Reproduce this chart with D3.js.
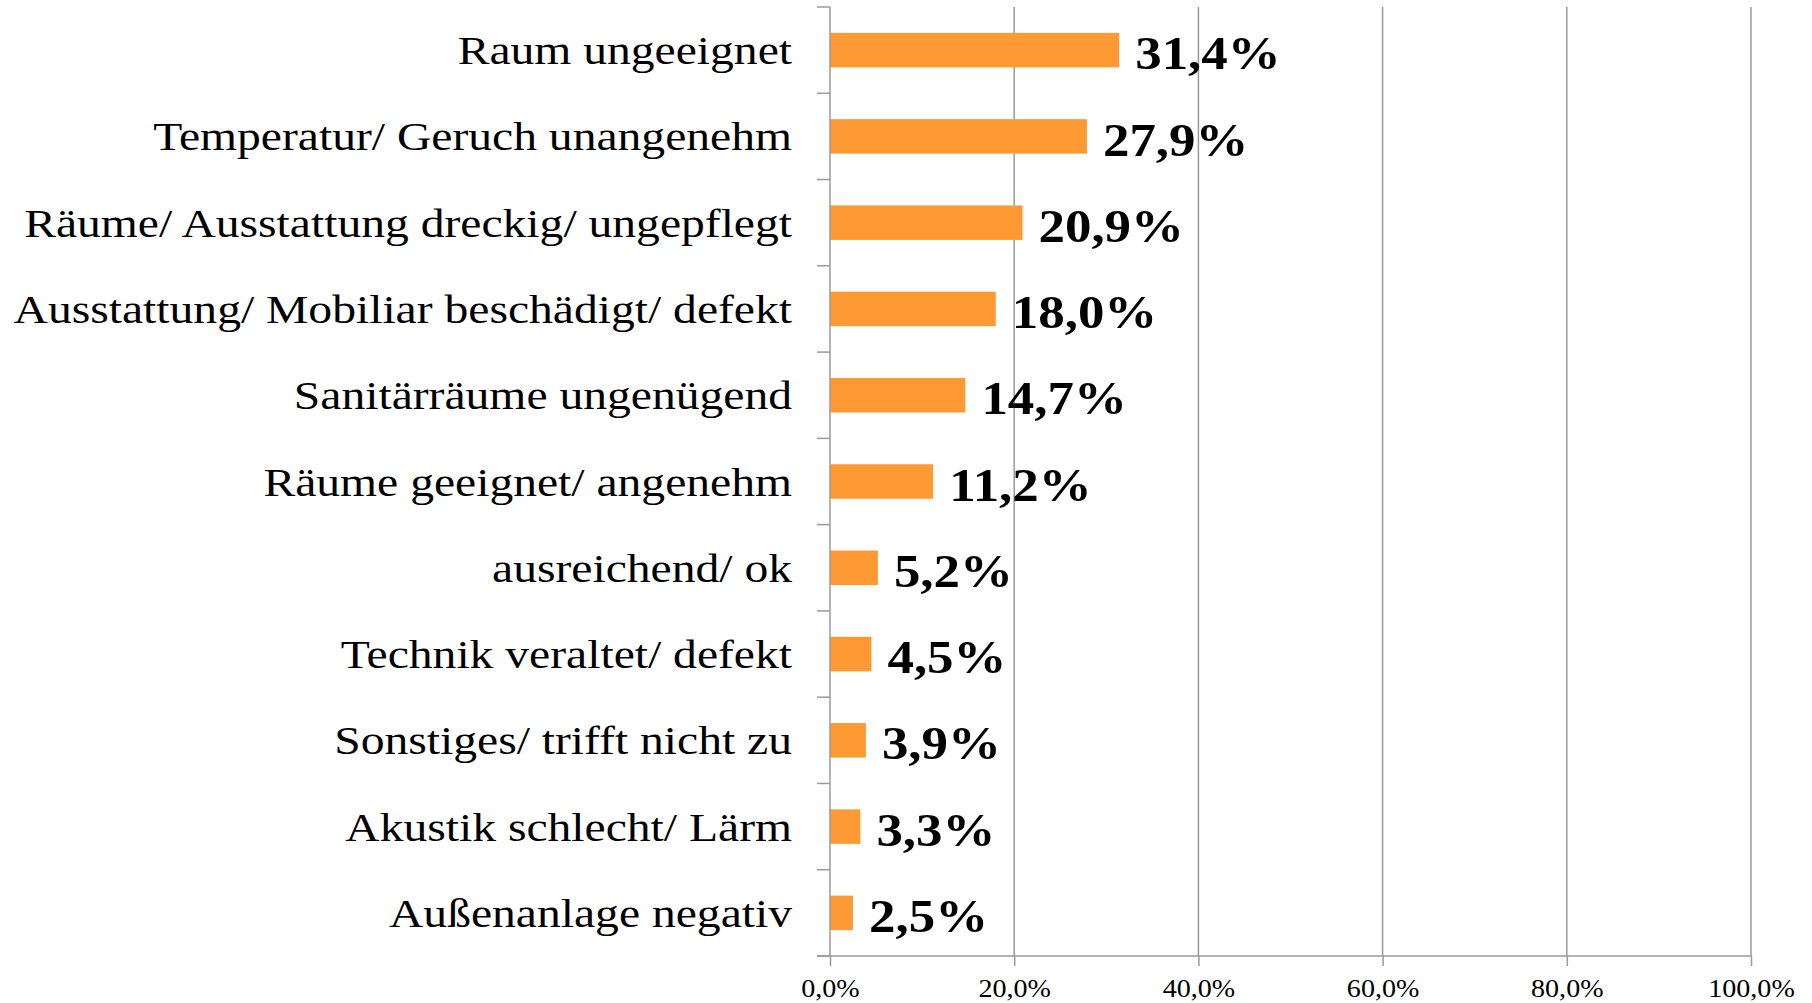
<!DOCTYPE html>
<html>
<head>
<meta charset="utf-8">
<script src="https://cdn.jsdelivr.net/npm/d3@7"></script>
<style>
  html, body { margin: 0; padding: 0; background: #fff; }
  svg { display: block; }
</style>
</head>
<body>
<svg id="chart" width="1812" height="1003"></svg>
<script>
// Gründe / Bewertung der Räumlichkeiten (Anteil der Nennungen)
const categories = [
  "Raum ungeeignet",
  "Temperatur/ Geruch unangenehm",
  "Räume/ Ausstattung dreckig/ ungepflegt",
  "Ausstattung/ Mobiliar beschädigt/ defekt",
  "Sanitärräume ungenügend",
  "Räume geeignet/ angenehm",
  "ausreichend/ ok",
  "Technik veraltet/ defekt",
  "Sonstiges/ trifft nicht zu",
  "Akustik schlecht/ Lärm",
  "Außenanlage negativ"
];
const values = [31.4, 27.9, 20.9, 18.0, 14.7, 11.2, 5.2, 4.5, 3.9, 3.3, 2.5];
const tickValues = [0, 20, 40, 60, 80, 100];

const fmt = v => v.toFixed(1).replace(".", ",") + "%";

const svg = d3.select("#chart");
const margin = { left: 830, right: 1812 - 1751, top: 7, bottom: 1003 - 956 };
const W = 1812, H = 1003;

const x = d3.scaleLinear().domain([0, 100]).range([margin.left, W - margin.right]);
const y = d3.scaleBand().domain(categories).range([margin.top, H - margin.bottom])
  .paddingInner(0.6).paddingOuter(0.3);

const gridColor = "#9a9a9a";
const serif = "'Liberation Serif', serif";

// vertical gridlines
svg.append("g").selectAll("line")
  .data(tickValues.slice(1))
  .join("line")
  .attr("x1", d => x(d)).attr("x2", d => x(d))
  .attr("y1", margin.top).attr("y2", H - margin.bottom)
  .attr("stroke", gridColor).attr("stroke-width", 1.5);

// bars
svg.append("g").selectAll("rect")
  .data(values)
  .join("rect")
  .attr("x", x(0))
  .attr("y", (d, i) => y(categories[i]))
  .attr("width", d => x(d) - x(0))
  .attr("height", y.bandwidth())
  .attr("fill", "#ff9933");

// left axis line with tick marks on band boundaries
const leftAxis = svg.append("g");
leftAxis.append("line")
  .attr("x1", x(0)).attr("x2", x(0))
  .attr("y1", margin.top).attr("y2", H - margin.bottom)
  .attr("stroke", gridColor).attr("stroke-width", 1.5);
const boundaries = d3.range(categories.length + 1).map(i => margin.top + i * y.step());
leftAxis.selectAll("line.tick")
  .data(boundaries)
  .join("line")
  .attr("class", "tick")
  .attr("x1", x(0) - 13).attr("x2", x(0))
  .attr("y1", d => d).attr("y2", d => d)
  .attr("stroke", gridColor).attr("stroke-width", 1.5);

// bottom axis
const xAxis = d3.axisBottom(x)
  .tickValues(tickValues)
  .tickFormat(d => d.toFixed(1).replace(".", ",") + "%")
  .tickSizeInner(10).tickSizeOuter(0).tickPadding(13);
const gx = svg.append("g")
  .attr("transform", `translate(0,${H - margin.bottom})`)
  .call(xAxis);
gx.select(".domain").remove();
gx.append("line")
  .attr("x1", x(0) - 13).attr("x2", x(100))
  .attr("stroke", gridColor).attr("stroke-width", 1.5);
gx.selectAll(".tick line").attr("stroke", gridColor).attr("stroke-width", 1.5);
gx.selectAll(".tick text")
  .attr("fill", "#000")
  .attr("font-family", serif)
  .attr("font-size", 26)
  .attr("transform", "scale(1.08,1)");

// category labels, widened slightly
svg.append("g").selectAll("text")
  .data(categories)
  .join("text")
  .attr("transform", d => `translate(792,${y(d) + y.bandwidth() / 2}) scale(1.19,1)`)
  .attr("dy", "0.35em")
  .attr("text-anchor", "end")
  .attr("font-family", serif)
  .attr("font-size", 40)
  .attr("fill", "#000")
  .text(d => d);

// value labels
svg.append("g").selectAll("text")
  .data(values)
  .join("text")
  .attr("transform", (d, i) => `translate(${x(d) + 16},${y(categories[i]) + y.bandwidth() / 2 + 3}) scale(1.15,1)`)
  .attr("dy", "0.35em")
  .attr("font-family", serif)
  .attr("font-weight", "bold")
  .attr("font-size", 46)
  .attr("fill", "#000")
  .text(d => fmt(d));
</script>
</body>
</html>
